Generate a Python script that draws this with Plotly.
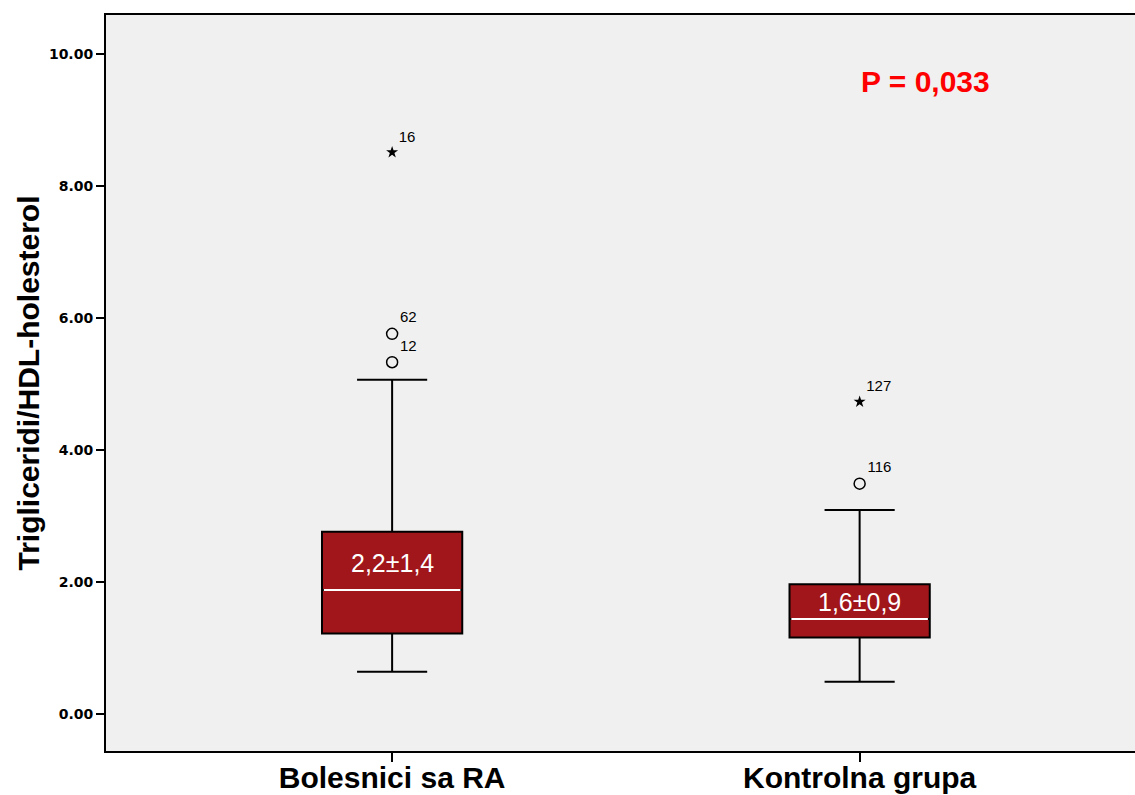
import plotly.graph_objects as go

# Group labels and five-number summaries of the TG/HDL ratio
groups = ["Bolesnici sa RA", "Kontrolna grupa"]
lower_fence = [0.64, 0.49]
q1 = [1.22, 1.16]
median = [1.88, 1.44]
q3 = [2.76, 1.965]
upper_fence = [5.065, 3.09]

# Mean ± SD printed inside each box
means = [2.2, 1.6]
mean_sd_text = ["2,2±1,4", "1,6±0,9"]

# Outliers: mild (circle) and extreme (star), with case numbers
mild_group = [0, 0, 1]
mild_values = [5.33, 5.76, 3.49]
mild_ids = ["12", "62", "116"]
extreme_group = [0, 1]
extreme_values = [8.51, 4.73]
extreme_ids = ["16", "127"]

p_text = "P = 0,033"

yticks = [0, 2, 4, 6, 8, 10]

BOX_W = 0.3
BOX_FILL = "#A1161A"

fig = go.Figure()

fig.add_trace(go.Box(
    x=list(range(len(groups))),
    q1=q1, median=median, q3=q3,
    lowerfence=lower_fence, upperfence=upper_fence,
    width=BOX_W, whiskerwidth=0.5,
    fillcolor=BOX_FILL,
    line=dict(color="black", width=2),
    boxpoints=False,
    hoverinfo="skip",
    showlegend=False,
))

# White median lines drawn across each box
for i, m in enumerate(median):
    half = BOX_W / 2 - 0.004
    fig.add_trace(go.Scatter(
        x=[i - half, i + half], y=[m, m],
        mode="lines", line=dict(color="white", width=2),
        hoverinfo="skip", showlegend=False,
    ))

fig.add_trace(go.Scatter(
    x=mild_group, y=mild_values,
    mode="markers+text",
    marker=dict(symbol="circle-open", size=11, color="black",
                line=dict(color="black", width=1.5)),
    text=mild_ids, textposition="top right",
    textfont=dict(family="Liberation Sans, Arial", size=15, color="black"),
    hoverinfo="skip", showlegend=False,
))

fig.add_trace(go.Scatter(
    x=extreme_group, y=extreme_values,
    mode="markers+text",
    marker=dict(symbol="star", size=9, color="black",
                line=dict(color="black", width=0)),
    text=extreme_ids, textposition="top right",
    textfont=dict(family="Liberation Sans, Arial", size=15, color="black"),
    hoverinfo="skip", showlegend=False,
))

for i, (mv, txt) in enumerate(zip(means, mean_sd_text)):
    fig.add_annotation(
        x=i, y=mv, xref="x", yref="y", text=txt, showarrow=False,
        xanchor="center", yanchor="middle", yshift=6,
        font=dict(family="Liberation Sans, Arial", size=25, color="white"),
    )

fig.add_annotation(
    x=1.14, y=9.59, xref="x", yref="y", text=p_text, showarrow=False,
    xanchor="center", yanchor="middle",
    font=dict(family="Liberation Sans, Arial", size=30, color="#FF0000", weight="bold"),
)

fig.update_layout(
    width=1135, height=795,
    margin=dict(l=106, r=0, t=15, b=44),
    paper_bgcolor="white",
    plot_bgcolor="#F0F0F0",
    showlegend=False,
)

fig.update_xaxes(
    range=[-0.612, 1.589],
    tickvals=list(range(len(groups))), ticktext=groups,
    ticks="outside", ticklen=9, tickwidth=1.5, tickcolor="black",
    ticklabelstandoff=-10,
    tickfont=dict(family="Liberation Sans, Arial", size=30, color="black", weight="bold"),
    showline=True, linecolor="black", linewidth=2, mirror=True,
    showgrid=False, zeroline=False, automargin=False,
)

fig.update_yaxes(
    range=[-0.56, 10.59],
    tickvals=yticks, tickformat=".2f",
    ticks="outside", ticklen=8, tickwidth=1.5, tickcolor="black",
    tickfont=dict(family="DejaVu Sans", size=14, color="black", weight="bold"),
    showline=True, linecolor="black", linewidth=2, mirror=False,
    showgrid=False, zeroline=False, automargin=False,
    title=dict(text="Trigliceridi/HDL-holesterol", standoff=0,
               font=dict(family="Liberation Sans, Arial", size=30, color="black", weight="bold")),
)

fig.write_html("out.html")
